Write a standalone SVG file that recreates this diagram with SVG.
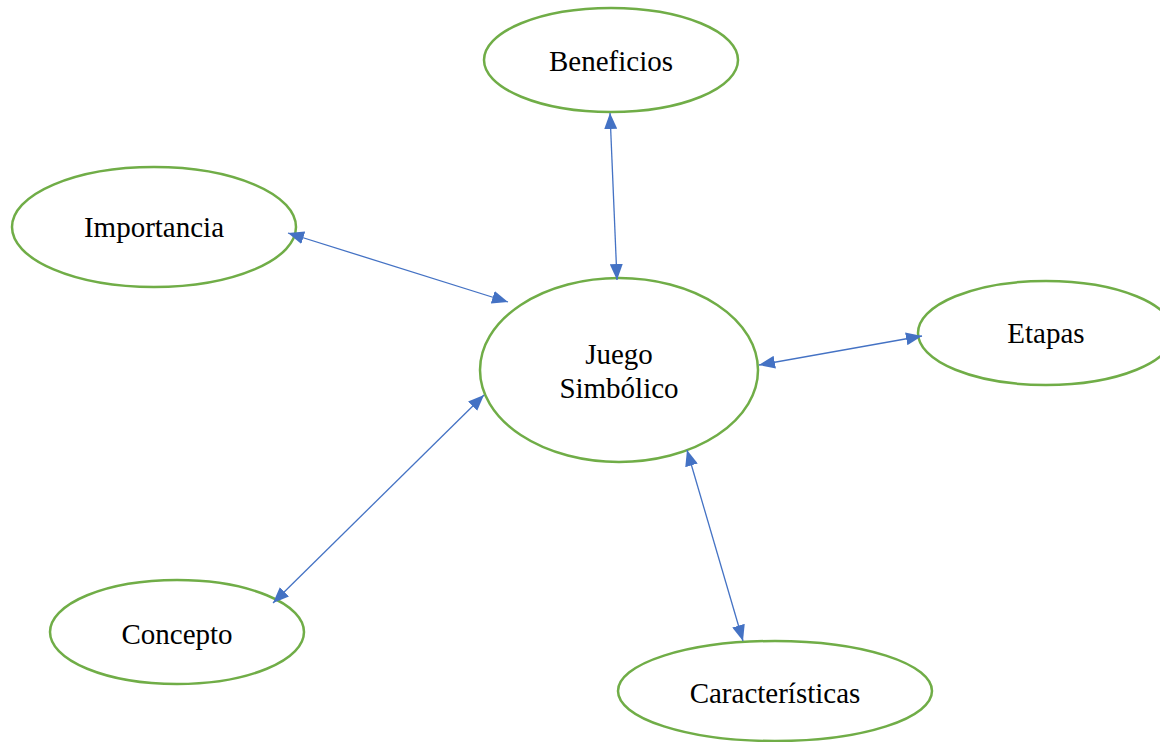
<svg xmlns="http://www.w3.org/2000/svg" width="1160" height="742" viewBox="0 0 1160 742">
<style>
.node ellipse{fill:#fff;stroke:#70AD47;stroke-width:2.5}
.node text{font-family:"Liberation Serif","Times New Roman",serif;font-size:29px;fill:#000;text-anchor:middle}
.conn line{stroke:#4472C4;stroke-width:1.3;marker-start:url(#a);marker-end:url(#a)}
</style>
<defs>
<marker id="a" viewBox="0 0 16 13" refX="16" refY="6.5" markerWidth="16" markerHeight="13" markerUnits="userSpaceOnUse" orient="auto-start-reverse">
<path d="M0,0L16,6.5L0,13z" fill="#4472C4"/>
</marker>
</defs>
<rect width="1160" height="742" fill="#fff"/>
<g id="beneficios" class="node"><ellipse cx="611" cy="60" rx="127" ry="52"/><text x="611" y="71">Beneficios</text></g>
<g id="importancia" class="node"><ellipse cx="154" cy="227" rx="142" ry="60"/><text x="154" y="237">Importancia</text></g>
<g id="juego" class="node"><ellipse cx="619" cy="370" rx="139" ry="92"/><text x="619" y="364">Juego</text><text x="619" y="398">Simbólico</text></g>
<g id="etapas" class="node"><ellipse cx="1046" cy="333" rx="128" ry="52"/><text x="1046" y="343">Etapas</text></g>
<g id="concepto" class="node"><ellipse cx="177" cy="632" rx="127" ry="52"/><text x="177" y="644">Concepto</text></g>
<g id="caracteristicas" class="node"><ellipse cx="775" cy="691" rx="157" ry="50"/><text x="775" y="703">Características</text></g>
<g id="connectors" class="conn">
<line x1="610" y1="113" x2="617" y2="280"/>
<line x1="288" y1="233" x2="508" y2="302"/>
<line x1="922" y1="336" x2="759" y2="365"/>
<line x1="273" y1="603" x2="484" y2="395"/>
<line x1="687" y1="450" x2="743" y2="641"/>
</g>
</svg>
